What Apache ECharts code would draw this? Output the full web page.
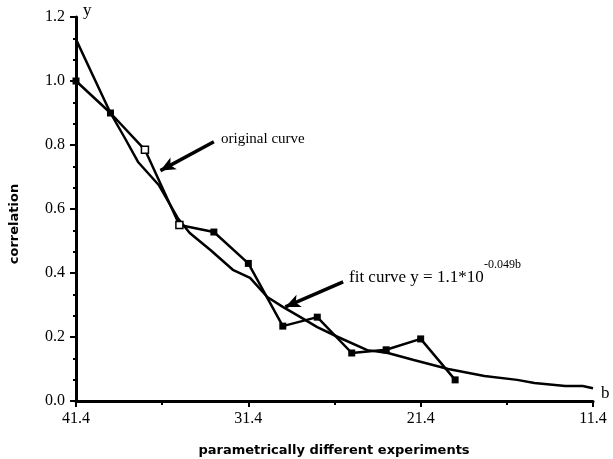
<!DOCTYPE html>
<html>
<head>
<meta charset="utf-8">
<script src="https://cdn.jsdelivr.net/npm/echarts@6/dist/echarts.min.js"></script>
<style>html,body{margin:0;padding:0;background:#fff}#c{width:613px;height:459px}</style>
</head>
<body>
<div id="c"></div>
<script>
// original curve (b, correlation)
var origB = [41.4, 39.4, 37.4, 35.4, 33.4, 31.4, 29.4, 27.4, 25.4, 23.4, 21.4, 19.4];
var origY = [1.0, 0.90, 0.785, 0.55, 0.528, 0.43, 0.234, 0.262, 0.15, 0.16, 0.194, 0.066];
var openPoints = [37.4, 35.4];
// fit curve as drawn
var fitB = [41.4, 40.4, 39.4, 38.6, 37.8, 36.6, 35.5, 34.8, 33.6, 32.3, 31.3, 30.3, 29.4, 28.4, 27.4, 26.2, 24.5, 23.3, 21.8, 19.8, 17.7, 15.8, 14.8, 13.0, 12.0, 11.4];
var fitY = [1.13, 1.015, 0.90, 0.825, 0.747, 0.675, 0.572, 0.525, 0.472, 0.41, 0.385, 0.325, 0.294, 0.263, 0.231, 0.20, 0.159, 0.15, 0.128, 0.10, 0.078, 0.066, 0.056, 0.047, 0.047, 0.04];
// axis ticks
var xLabels = [11.4, 21.4, 31.4, 41.4];
var xMinorTicks = [16.4, 26.4, 36.4];
var yMin = 0, yMax = 1.2, yStep = 0.2;
// annotation arrows [from, to]
var arrowOrig = [[33.4, 0.81], [36.5, 0.72]];
var arrowFit = [[25.9, 0.372], [29.25, 0.294]];

var chart = echarts.init(document.getElementById('c'), null, {renderer: 'canvas'});
var serif = 'Liberation Serif';
var origData = origB.map(function (b, i) {
  var item = {value: [b, origY[i]]};
  if (openPoints.indexOf(b) >= 0) {
    item.itemStyle = {color: '#fff', borderColor: '#000', borderWidth: 1.5};
  }
  return item;
});
var fitData = fitB.map(function (b, i) { return [b, fitY[i]]; });

function arrowLine(a) {
  return [{coord: a[0], symbol: 'none'}, {coord: a[1], symbol: 'arrow'}];
}

chart.setOption({
  animation: false,
  backgroundColor: '#fff',
  grid: {left: 76, right: 20, top: 17, bottom: 58, containLabel: false},
  xAxis: [{
    type: 'value', inverse: true, min: 11.4, max: 41.4,
    position: 'bottom',
    axisLine: {lineStyle: {color: '#000', width: 3}},
    axisTick: {customValues: xLabels, length: 6, lineStyle: {color: '#000', width: 2}},
    axisLabel: {customValues: xLabels, formatter: function (v) { return v.toFixed(1); },
      color: '#000', fontFamily: serif, fontSize: 16, margin: 10},
    splitLine: {show: false}
  }, {
    type: 'value', inverse: true, min: 11.4, max: 41.4,
    position: 'bottom',
    axisLine: {show: false},
    axisTick: {customValues: xMinorTicks, length: 4, lineStyle: {color: '#000', width: 2}},
    axisLabel: {show: false},
    splitLine: {show: false}
  }],
  yAxis: {
    type: 'value', min: yMin, max: yMax, interval: yStep,
    axisLine: {show: true, lineStyle: {color: '#000', width: 3}},
    axisTick: {show: true, length: 6, lineStyle: {color: '#000', width: 2}},
    minorTick: {show: true, splitNumber: 3, length: 3, lineStyle: {color: '#000', width: 2}},
    axisLabel: {formatter: function (v) { return v.toFixed(1); },
      color: '#000', fontFamily: serif, fontSize: 16, margin: 11},
    splitLine: {show: false}
  },
  series: [{
    type: 'line', name: 'fit', data: fitData, showSymbol: false, smooth: false,
    lineStyle: {color: '#000', width: 2.5},
    markLine: {
      silent: true, symbolSize: [10, 15], animation: false,
      label: {show: false},
      lineStyle: {color: '#000', width: 3.5, type: 'solid'},
      data: [arrowLine(arrowOrig), arrowLine(arrowFit)]
    }
  }, {
    type: 'line', name: 'original', data: origData, symbol: 'rect', symbolSize: 7,
    itemStyle: {color: '#000'},
    lineStyle: {color: '#000', width: 2.5}
  }],
  graphic: [
    {type: 'text', left: 83, top: 2, style: {text: 'y', font: '17px "Liberation Serif"', fill: '#000'}},
    {type: 'text', left: 601, top: 385, style: {text: 'b', font: '17px "Liberation Serif"', fill: '#000'}},
    {type: 'text', x: 15, y: 224, rotation: Math.PI / 2,
      style: {text: 'correlation', font: 'bold 13px "DejaVu Sans"', fill: '#000', align: 'center', verticalAlign: 'middle'}},
    {type: 'text', x: 334, y: 451,
      style: {text: 'parametrically different experiments', font: 'bold 13px "DejaVu Sans"', fill: '#000', align: 'center', verticalAlign: 'middle'}},
    {type: 'text', x: 221, y: 139,
      style: {text: 'original curve', font: '15px "Liberation Serif"', fill: '#000', verticalAlign: 'middle'}},
    {type: 'text', x: 349, y: 278,
      style: {text: 'fit curve y = 1.1*10', font: '17px "Liberation Serif"', fill: '#000', verticalAlign: 'middle'}},
    {type: 'text', x: 484, y: 265,
      style: {text: '-0.049b', font: '12px "Liberation Serif"', fill: '#000', verticalAlign: 'middle'}}
  ]
});
</script>
</body>
</html>
